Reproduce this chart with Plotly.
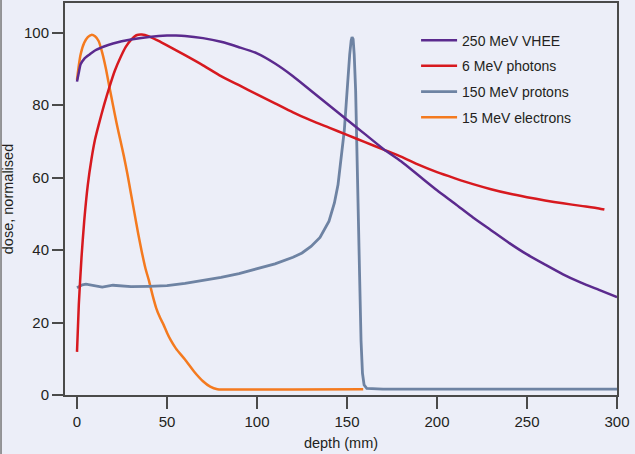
import plotly.graph_objects as go

# ---- data ----
vhee_x = [0, 1, 2, 4, 7, 10, 15, 20, 30, 40, 50, 55, 60, 70, 80, 90, 100, 110, 120, 130, 140,
          150, 160, 170, 180, 190, 200, 210, 220, 230, 240, 250, 260, 270, 280, 290, 300]
vhee_y = [86.5, 89, 91.3, 92.8, 94, 95.1, 96.2, 97, 98.1, 98.8, 99.2, 99.2, 99.1, 98.5, 97.5, 96,
          94.3, 91.5, 88, 84, 80, 76, 72, 68, 64.5, 60.5, 56.5, 52.8, 49, 45.5, 42, 38.8, 36,
          33.3, 31, 29, 27]

phot_x = [0, 1, 2.5, 4, 6, 8, 10, 12, 15, 18, 21, 24, 27, 30, 33, 36, 40, 45, 50, 60, 70, 80,
          90, 100, 110, 120, 130, 140, 150, 160, 170, 180, 190, 200, 210, 220, 230, 240, 250,
          260, 270, 280, 290, 293]
phot_y = [11.9, 25, 38, 48, 58, 65, 70.5, 74.5, 80, 85, 89.5, 93, 96, 98, 99.3, 99.5, 99, 97.8,
          96.5, 93.8, 91, 88, 85.5, 83, 80.5, 78, 75.8, 73.8, 71.8, 69.8, 67.8, 65.8, 63.5,
          61.5, 59.8, 58.2, 56.8, 55.6, 54.6, 53.7, 52.9, 52.2, 51.5, 51.2]

prot_x = [0, 3, 5, 10, 14, 20, 25, 30, 40, 50, 60, 70, 80, 90, 100, 110, 120, 125, 130, 135,
          140, 143, 145, 147, 148.5, 149.5, 150.5, 151.5, 152.3, 152.8, 153.4, 154, 154.8,
          155.5, 156.2, 157, 157.8, 158.6, 159.5, 161, 170, 300]
prot_y = [29.6, 30.4, 30.6, 30.1, 29.8, 30.3, 30.1, 29.9, 30.0, 30.2, 30.8, 31.6, 32.5, 33.5,
          34.8, 36.2, 38, 39.2, 41, 43.5, 48, 53, 58, 66, 73, 80, 88, 94, 97.8, 98.8, 98.2,
          94, 84, 70, 52, 33, 15, 6, 2.8, 1.8, 1.6, 1.6]

elec_x = [0, 1, 2, 4, 6, 8, 10, 12, 14, 16, 18, 20, 22, 24, 26, 28, 30, 32, 34, 36, 38, 40, 42,
          44, 46, 48, 50, 52, 55, 60, 65, 70, 74, 78, 90, 120, 159]
elec_y = [87, 91, 94, 97.2, 98.8, 99.4, 99, 97.7, 94.5, 90.2, 85, 80, 75, 70.5, 66, 61, 55.5,
          50, 44.5, 39.5, 35, 31.5, 27.5, 24, 21.5, 19.5, 17.2, 15.2, 12.8, 9.8, 6.5, 3.8, 2.3,
          1.6, 1.5, 1.55, 1.6]

names = ["250 MeV VHEE", "6 MeV photons", "150 MeV protons", "15 MeV electrons"]
colors = ["#5b2a8e", "#d7191f", "#6e83a3", "#f47a1f"]

x_ticks = [0, 50, 100, 150, 200, 250, 300]
y_ticks = [0, 20, 40, 60, 80, 100]

FONT = "Liberation Sans, Arial, sans-serif"
TXT = "#231f20"
BG = "#eceef8"

fig = go.Figure()
series = [(elec_x, elec_y, 3, "spline"), (prot_x, prot_y, 2, "linear"),
          (phot_x, phot_y, 1, "spline"), (vhee_x, vhee_y, 0, "spline")]
for xs, ys, i, shape in series:
    fig.add_trace(go.Scatter(
        x=xs, y=ys, mode="lines", name=names[i], legendrank=i + 1,
        legendgroup=names[i],
        line=dict(color=colors[i], width=2.8 if i == 2 else 2.5, shape=shape,
                  smoothing=0.6 if shape == "spline" else None),
    ))

axis_common = dict(
    showline=True, linecolor="#4a4a4a", linewidth=2, mirror=True,
    ticks="outside", tickcolor="#4a4a4a", tickwidth=1.5,
    showgrid=False, zeroline=False,
    tickfont=dict(family=FONT, size=15, color=TXT),
)

fig.update_layout(
    width=635, height=454,
    margin=dict(l=65, r=18, t=1, b=59),
    paper_bgcolor=BG, plot_bgcolor=BG,
    font=dict(family=FONT, color=TXT, size=14.5),
    xaxis=dict(range=[-6.67, 300], tickvals=x_ticks, ticklen=12,
               title=dict(text="depth (mm)", standoff=9,
                          font=dict(family=FONT, size=14.5, color=TXT)),
               **axis_common),
    yaxis=dict(range=[0, 108.2], tickvals=y_ticks, ticklen=11,
               title=dict(text="dose, normalised", standoff=8,
                          font=dict(family=FONT, size=14.5, color=TXT)),
               **axis_common),
    legend=dict(x=0.636, y=0.945, xanchor="left", yanchor="top",
                bgcolor="rgba(0,0,0,0)", borderwidth=0, tracegroupgap=4.5,
                itemwidth=36,
                font=dict(family=FONT, size=14, color=TXT)),
    shapes=[dict(type="line", xref="paper", yref="paper",
                 x0=-0.1159, x1=-0.1159, y0=-0.16, y1=1.01,
                 line=dict(color="#777777", width=1.5))],
)

fig.write_html(
    "out.html",
    config={"displayModeBar": False},
    post_script="document.body.style.margin='0';document.body.style.padding='0';"
                "document.body.style.background='" + BG + "';",
)
